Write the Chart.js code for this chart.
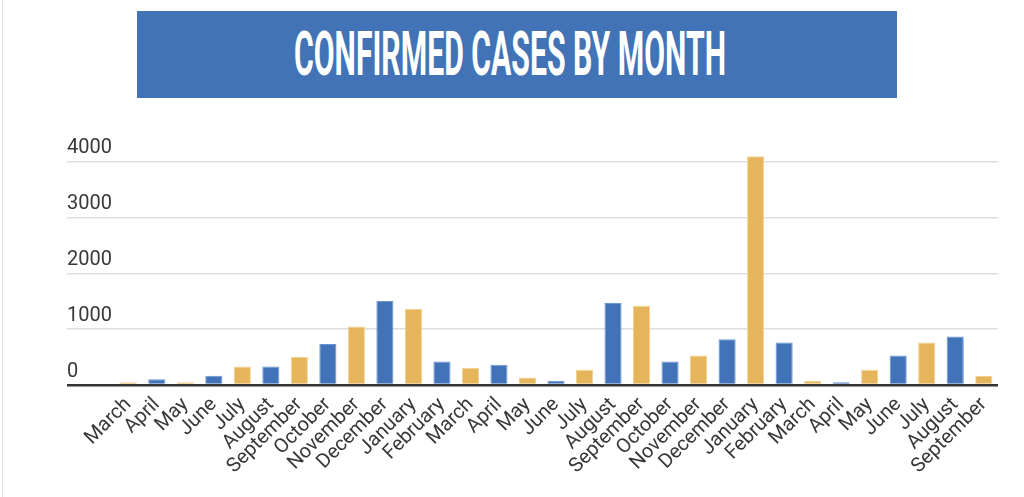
<!DOCTYPE html>
<html>
<head>
<meta charset="utf-8">
<script src="https://cdn.jsdelivr.net/npm/chart.js@4"></script>
<style>
  html, body { margin: 0; padding: 0; background: #ffffff; }
  #wrap { position: relative; width: 1024px; height: 497px; overflow: hidden; }
  #leftline { position: absolute; left: 2px; top: 0; width: 1px; height: 497px; background: #e2e2e2; }
  #banner { position: absolute; left: 137px; top: 11px; width: 760px; height: 87px; background: #4173b6; }
  #title { position: absolute; left: 0; top: 0; white-space: nowrap; color: #ffffff;
           font-family: Roboto, "Liberation Sans", sans-serif; font-weight: 700; font-size: 61px;
           line-height: 61px; transform-origin: 0 0; }
  canvas { position: absolute; left: 0; top: 0; }
</style>
</head>
<body>
<div id="wrap">
  <div id="leftline"></div>
  <div id="banner"><span id="title">CONFIRMED CASES BY MONTH</span></div>
  <canvas id="chart" width="1024" height="497"></canvas>
</div>
<script>
const months = ["March","April","May","June","July","August","September","October","November","December",
  "January","February","March","April","May","June","July","August","September","October","November","December",
  "January","February","March","April","May","June","July","August","September"];
const cases = [50,105,50,165,330,330,505,735,1050,1505,1360,420,310,365,135,75,275,1470,1420,420,530,820,4100,760,75,50,275,530,760,870,160];
const yTicks = [0,1000,2000,3000,4000];
const colorOrange = "#e5b55c";
const colorBlue = "#4272b8";
const borderOrange = "#f3d08f";
const borderBlue = "#6a95d2";

// title condensing to match the banner typeface width
const t = document.getElementById('title');
const targetW = 432, capTop = 22;
const w = t.getBoundingClientRect().width;
const sx = targetW / w;
t.style.transform = 'scaleX(' + sx + ')';
t.style.left = ((760 - targetW) / 2 - 7) + 'px';
t.style.top = (capTop - 61 * 0.145) + 'px';

const bg = cases.map((v, i) => i % 2 === 0 ? colorOrange : colorBlue);
const bd = cases.map((v, i) => i % 2 === 0 ? borderOrange : borderBlue);

new Chart(document.getElementById('chart'), {
  type: 'bar',
  data: {
    labels: months,
    datasets: [{ data: cases, backgroundColor: bg, borderColor: bd, borderWidth: 1,
                 barPercentage: 0.6, categoryPercentage: 1.0 }]
  },
  options: {
    responsive: false,
    animation: false,
    layout: { padding: { left: 67, right: 26, top: 155.6, bottom: 10 } },
    plugins: { legend: { display: false }, tooltip: { enabled: false }, title: { display: false } },
    scales: {
      x: {
        grid: { display: false },
        border: { display: false },
        ticks: { color: '#383838', font: { family: 'Roboto', size: 20 }, minRotation: 45, maxRotation: 45,
                 autoSkip: false, padding: 0 },
        afterFit: (s) => { s.height = 102; }
      },
      y: {
        min: 0, max: 4110,
        border: { display: false },
        grid: {
          color: (c) => c.tick && c.tick.value === 0 ? '#333333' : '#dddddd',
          lineWidth: (c) => c.tick && c.tick.value === 0 ? 2.5 : 1.5,
          tickLength: 47, drawTicks: true
        },
        afterBuildTicks: (s) => { s.ticks = yTicks.map(v => ({ value: v })); },
        ticks: { color: '#383838', font: { family: 'Roboto', size: 20 }, crossAlign: 'far',
                 labelOffset: -13.5, padding: 0, includeBounds: false,
                 callback: (v) => String(v) },
        afterFit: (s) => { s.width = 47; }
      }
    }
  }
});
</script>
</body>
</html>
